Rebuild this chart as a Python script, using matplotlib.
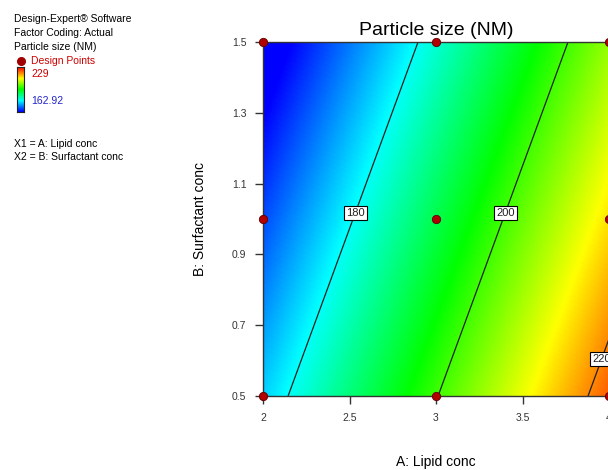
import numpy as np
import matplotlib
matplotlib.use("Agg")
import matplotlib.pyplot as plt
from matplotlib.colors import LinearSegmentedColormap
from matplotlib.lines import Line2D

plt.rcParams['font.family'] = ['Liberation Sans', 'DejaVu Sans']

# fitted linear model: size = b0 + bA*A + bB*B
b0 = 139.18
bA = 23.07
bB = -17.33

# design points (A: lipid conc, B: surfactant conc)
design_A = [2, 2, 2, 3, 3, 3, 4, 4, 4]
design_B = [0.5, 1.0, 1.5, 0.5, 1.0, 1.5, 0.5, 1.0, 1.5]

resp_min = 162.92
resp_max = 229
levels = [180, 200, 220]
label_pos = [(2.52, 1.02), (3.39, 1.02), (3.95, 0.607)]

x_ticks = [2, 2.5, 3, 3.5, 4]
y_ticks = [0.5, 0.7, 0.9, 1.1, 1.3, 1.5]

cmap = LinearSegmentedColormap.from_list(
    "de", ["#0000ff", "#00ffff", "#00ff00", "#ffff00", "#ff0000"])

fig = plt.figure(figsize=(6.08, 4.70), dpi=100)
ax = fig.add_axes([263 / 608, 1 - 396 / 470, 346 / 608, 354 / 470])

A = np.linspace(2, 4, 200)
B = np.linspace(0.5, 1.5, 200)
AA, BB = np.meshgrid(A, B)
Z = b0 + bA * AA + bB * BB

ax.imshow(Z, extent=[2, 4, 0.5, 1.5], origin='lower', aspect='auto',
          cmap=cmap, vmin=resp_min, vmax=resp_max, interpolation='bilinear')
cs = ax.contour(AA, BB, Z, levels=levels, colors='#202020', linewidths=0.9)
lbls = ax.clabel(cs, fmt='%d', inline=False, fontsize=8, manual=label_pos)
for t in lbls:
    t.set_rotation(0)
    t.set_bbox(dict(facecolor='white', edgecolor='black', pad=1.5, linewidth=0.8))
    t.set_zorder(5)

ax.scatter(design_A, design_B, s=36, color='#b00000', edgecolor='#600000',
           linewidth=0.6, zorder=6, clip_on=False)

ax.set_xlim(2, 4)
ax.set_ylim(0.5, 1.5)
ax.set_xticks(x_ticks)
ax.set_xticklabels(['2', '2.5', '3', '3.5', '4'])
ax.set_yticks(y_ticks)
ax.tick_params(direction='out', length=6, width=1, labelsize=7.5, colors='#333333', pad=6)
for s in ax.spines.values():
    s.set_color('#333333')
    s.set_linewidth(1)

ax.set_title("Particle size (NM)", fontsize=14, pad=5)
fig.text(436 / 608, 1 - 462 / 470, "A: Lipid conc", ha='center', va='center', fontsize=10)
fig.text(200 / 608, 1 - 219 / 470, "B: Surfactant conc", ha='center', va='center',
         rotation=90, fontsize=10)

# left info panel
fs = 7.5
fig.text(14 / 608, 1 - 19 / 470, "Design-Expert® Software", fontsize=fs, va='center')
fig.text(14 / 608, 1 - 33 / 470, "Factor Coding: Actual", fontsize=fs, va='center')
fig.text(14 / 608, 1 - 47 / 470, "Particle size (NM)", fontsize=fs, va='center')
fig.text(31 / 608, 1 - 61 / 470, "Design Points", fontsize=fs, va='center', color='#cc0000')
fig.add_artist(Line2D([21 / 608], [1 - 61 / 470], marker='o', markersize=5.5,
                      color='#a00000', linestyle='none', transform=fig.transFigure))
fig.text(31 / 608, 1 - 74 / 470, "229", fontsize=fs, va='center', color='#cc0000')
fig.text(31 / 608, 1 - 101 / 470, "162.92", fontsize=fs, va='center', color='#2222cc')
cax = fig.add_axes([17 / 608, 1 - 112 / 470, 7 / 608, 45 / 470])
cax.imshow(np.linspace(1, 0, 100).reshape(-1, 1), aspect='auto', cmap=cmap)
cax.set_xticks([])
cax.set_yticks([])
for s in cax.spines.values():
    s.set_color('#222222')
    s.set_linewidth(0.8)
fig.text(14 / 608, 1 - 144 / 470, "X1 = A: Lipid conc", fontsize=fs, va='center')
fig.text(14 / 608, 1 - 157 / 470, "X2 = B: Surfactant conc", fontsize=fs, va='center')

fig.savefig("out.png", dpi=100)
